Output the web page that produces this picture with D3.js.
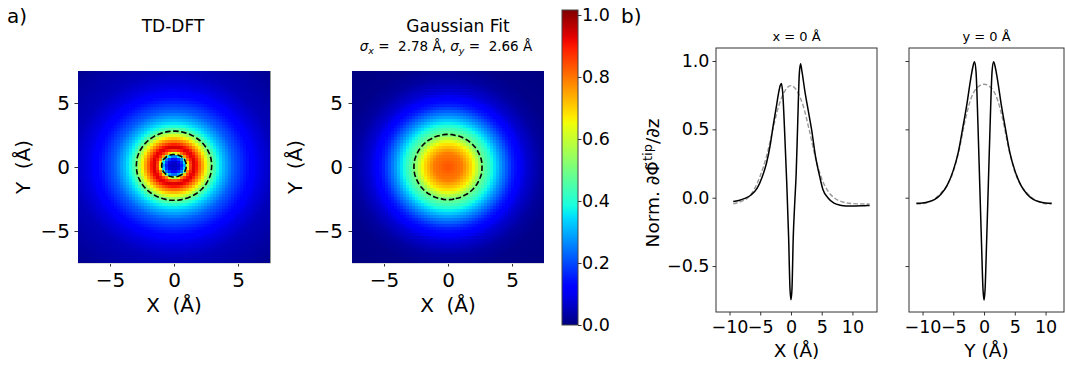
<!DOCTYPE html>
<html>
<head>
<meta charset="utf-8">
<script src="https://cdn.jsdelivr.net/npm/d3@7"></script>
<style>
  body { margin: 0; background: #fff; }
  svg { font-family: "DejaVu Sans", sans-serif; }
  text { white-space: pre; }
</style>
</head>
<body>
<svg id="fig" width="1065" height="365"></svg>
<script>
// ---- data ----
// TD-DFT map: radial profile (r in Å, normalised value)
const tdRadii  = [0, 0.4, 0.75, 0.93, 1.1, 1.3, 1.5, 1.7, 1.9, 2.2, 2.5, 2.8, 3.2, 3.7, 4.4, 5.3, 6.3, 7.5, 11];
const tdValues = [0.05, 0.08, 0.25, 0.5, 0.78, 0.89, 0.94, 0.9, 0.82, 0.72, 0.61, 0.5, 0.39, 0.31, 0.22, 0.15, 0.09, 0.05, 0.01];
const tdStretch = {x: 1.05, y: 0.96, shiftY: 0.1};

// Gaussian fit map: profile against r / sigma
const sigma = {x: 2.78, y: 2.66};
const fitRadii  = [0, 0.4, 0.7, 0.95, 1.2, 1.5, 1.8, 2.2, 2.6, 3, 4];
const fitValues = [0.84, 0.79, 0.67, 0.5, 0.4, 0.27, 0.16, 0.074, 0.028, 0.009, 0];
const contourLevels = [0.5];

// b) line cuts
const xCutPos = [-9.4, -8.5, -7.5, -6.5, -5.5, -4.7, -4, -3.4, -2.85, -2.4, -2.04, -1.75, -1.56, -1.35, -1.0, -0.7, -0.38, -0.17, 0,
  0.17, 0.37, 0.6, 0.85, 1.1, 1.35, 1.56, 1.8, 2.26, 2.8, 3.35, 4, 4.7, 5.2, 6, 7, 8, 9, 10.5, 12, 12.8];
const xCutTd = [-0.028, -0.02, -0.005, 0.02, 0.07, 0.15, 0.25, 0.38, 0.54, 0.66, 0.76, 0.82, 0.835, 0.77, 0.45, 0.12, -0.29, -0.655, -0.747,
  -0.66, -0.29, -0.05, 0.18, 0.55, 0.9, 0.98, 0.92, 0.78, 0.64, 0.5, 0.3, 0.15, 0.06, 0.0, -0.04, -0.055, -0.06, -0.06, -0.058, -0.057];
const xCutFitPos = [-9.4, -8, -7, -6, -5, -4, -3, -2, -1, 0, 1, 2, 3, 4, 5, 6, 7, 8, 9, 10, 11, 12, 12.8];
const xCutFit = [-0.045, -0.025, 0.0, 0.06, 0.16, 0.3, 0.49, 0.67, 0.78, 0.82, 0.78, 0.67, 0.49, 0.29, 0.14, 0.05, 0.0, -0.025, -0.038, -0.043, -0.045, -0.046, -0.046];

const yCutPos = [-11, -10, -9, -8, -7, -6, -5, -4.2, -3.5, -2.8, -2.2, -1.8, -1.55, -1.3, -1.0, -0.7, -0.4, -0.17, 0,
  0.17, 0.4, 0.7, 1.0, 1.3, 1.55, 1.8, 2.2, 2.8, 3.5, 4.2, 5, 6, 7, 8, 9, 10, 11];
const yCutTd = [-0.04, -0.038, -0.03, -0.012, 0.025, 0.09, 0.2, 0.33, 0.5, 0.68, 0.86, 0.96, 0.995, 0.92, 0.55, 0.1, -0.35, -0.67, -0.75,
  -0.67, -0.35, 0.1, 0.55, 0.92, 0.995, 0.96, 0.86, 0.68, 0.5, 0.33, 0.2, 0.09, 0.025, -0.012, -0.03, -0.038, -0.04];
const yCutFitPos = [-11, -10, -9, -8, -7, -6, -5, -4, -3, -2, -1, 0, 1, 2, 3, 4, 5, 6, 7, 8, 9, 10, 11];
const yCutFit = [-0.046, -0.044, -0.032, -0.008, 0.035, 0.09, 0.19, 0.36, 0.58, 0.74, 0.81, 0.83, 0.81, 0.74, 0.58, 0.36, 0.19, 0.09, 0.035, -0.008, -0.032, -0.044, -0.046];

const mapTicks = [-5, 0, 5];
const cbTicks = [0, 0.2, 0.4, 0.6, 0.8, 1.0];
const cbMax = 1.016;
const cutXTicks = [-10, -5, 0, 5, 10];
const cutYTicks = [-0.5, 0, 0.5, 1.0];

// ---- jet colormap ----
const jetR = d3.scaleLinear().domain([0, 0.35, 0.66, 0.89, 1]).range([0, 0, 1, 1, 0.5]).clamp(true);
const jetG = d3.scaleLinear().domain([0, 0.125, 0.375, 0.64, 0.91, 1]).range([0, 0, 1, 1, 0, 0]).clamp(true);
const jetB = d3.scaleLinear().domain([0, 0.11, 0.34, 0.65, 1]).range([0.5, 1, 1, 0, 0]).clamp(true);
const jet = t => d3.rgb(jetR(t) * 255, jetG(t) * 255, jetB(t) * 255).formatHex();

const svg = d3.select('#fig');

const tdProfile = d3.scaleLinear().domain(tdRadii).range(tdValues).clamp(true);
const fitProfile = d3.scaleLinear().domain(fitRadii).range(fitValues).clamp(true);

const tdAt = (x, y) => tdProfile(Math.hypot(x / tdStretch.x, (y - tdStretch.shiftY) / tdStretch.y));
const fitAt = (x, y) => fitProfile(Math.hypot(x / sigma.x, y / sigma.y));

const n = 64;
const ext = 7.5;

// matplotlib-ish axis look: no domain line, dark ticks, DejaVu labels
const styleAxis = (g, size) => {
    g.attr('font-family', null).attr('font-size', size);
    g.select('.domain').remove();
    g.selectAll('line').attr('stroke', '#333');
    g.selectAll('text').attr('fill', '#000');
};

const drawMap = (box, valueAt) => {
    const x = d3.scaleLinear().domain([-ext, ext]).range([box.left, box.left + box.size]);
    const y = d3.scaleLinear().domain([-ext, ext]).range([box.top + box.size, box.top]);
    const step = 2 * ext / n;

    const values = [];
    const cells = [];
    for (let j = 0; j < n; j++) {
        for (let i = 0; i < n; i++) {
            const cx = -ext + (i + 0.5) * step;
            const cy = ext - (j + 0.5) * step;
            const v = valueAt(cx, cy);
            values.push(v);
            cells.push({x0: -ext + i * step, y0: ext - j * step, v});
        }
    }

    const g = svg.append('g');
    g.selectAll('rect')
        .data(cells)
        .join('rect')
        .attr('x', d => x(d.x0))
        .attr('y', d => y(d.y0))
        .attr('width', x(step) - x(0) + 0.3)
        .attr('height', y(0) - y(step) + 0.3)
        .attr('fill', d => jet(d.v / cbMax))
        .attr('shape-rendering', 'crispEdges');

    // dashed contour from the same grid
    const px = box.size / n;
    const path = d3.geoPath(d3.geoIdentity().scale(px).translate([box.left, box.top]));
    g.selectAll('path.ct')
        .data(d3.contours().size([n, n]).thresholds(contourLevels)(values))
        .join('path')
        .attr('class', 'ct')
        .attr('d', path)
        .attr('fill', 'none')
        .attr('stroke', '#000')
        .attr('stroke-width', 1.6)
        .attr('stroke-dasharray', '5.5,2.6');

    svg.append('g')
        .attr('transform', `translate(0,${box.top + box.size})`)
        .call(d3.axisBottom(x).tickValues(mapTicks).tickSize(3.5).tickPadding(6).tickFormat(d3.format('d')))
        .call(g => styleAxis(g, 20));
    svg.append('g')
        .attr('transform', `translate(${box.left},0)`)
        .call(d3.axisLeft(y).tickValues(mapTicks).tickSize(3.5).tickPadding(box.ypad).tickFormat(d3.format('d')))
        .call(g => styleAxis(g, 20));

    svg.append('text')
        .attr('x', x(0)).attr('y', 312)
        .attr('text-anchor', 'middle').attr('font-size', 20)
        .text('X  (Å)');
    svg.append('text')
        .attr('transform', `translate(${box.ylab},${y(0)}) rotate(-90)`)
        .attr('text-anchor', 'middle').attr('font-size', 20)
        .text('Y  (Å)');
};

// ---- a) maps ----
const tdBox = {left: 78, top: 71, size: 192, ypad: 4.5, ylab: 30};
const fitBox = {left: 352, top: 71, size: 192, ypad: 5.5, ylab: 302};
drawMap(tdBox, tdAt);
drawMap(fitBox, fitAt);

// faint frame remnants
svg.append('line').attr('x1', 270.5).attr('x2', 270.5).attr('y1', 71).attr('y2', 263)
    .attr('stroke', '#999').attr('stroke-width', 1);
svg.append('line').attr('x1', 78).attr('x2', 271).attr('y1', 263.5).attr('y2', 263.5)
    .attr('stroke', '#ddd').attr('stroke-width', 1);
svg.append('line').attr('x1', 352).attr('x2', 544).attr('y1', 263.5).attr('y2', 263.5)
    .attr('stroke', '#ddd').attr('stroke-width', 1);

svg.append('text').attr('x', 173).attr('y', 32).attr('text-anchor', 'middle').attr('font-size', 17).text('TD-DFT');
svg.append('text').attr('x', 458).attr('y', 32).attr('text-anchor', 'middle').attr('font-size', 17).text('Gaussian Fit');

const sig = svg.append('text').attr('x', 446).attr('y', 51).attr('text-anchor', 'middle').attr('font-size', 13.5);
sig.append('tspan').attr('font-style', 'italic').text('σ');
sig.append('tspan').attr('font-style', 'italic').attr('font-size', 9.5).attr('dy', 3).text('x');
sig.append('tspan').attr('dy', -3).text(' =  2.78 Å, ');
sig.append('tspan').attr('font-style', 'italic').text('σ');
sig.append('tspan').attr('font-style', 'italic').attr('font-size', 9.5).attr('dy', 3).text('y');
sig.append('tspan').attr('dy', -3).text(' =  2.66 Å');

// ---- colorbar ----
const cb = {left: 562, width: 16, top: 10, bottom: 325};
const cbScale = d3.scaleLinear().domain([0, cbMax]).range([cb.bottom, cb.top]);
const grad = svg.append('defs').append('linearGradient')
    .attr('id', 'jetgrad').attr('x1', 0).attr('y1', 1).attr('x2', 0).attr('y2', 0);
grad.selectAll('stop')
    .data(d3.range(0, 1.0001, 0.02))
    .join('stop')
    .attr('offset', d => d)
    .attr('stop-color', d => jet(d));
svg.append('rect')
    .attr('x', cb.left).attr('y', cb.top)
    .attr('width', cb.width).attr('height', cb.bottom - cb.top)
    .attr('fill', 'url(#jetgrad)')
    .attr('stroke', '#444').attr('stroke-width', 1);
svg.append('g')
    .attr('transform', `translate(${cb.left + cb.width},0)`)
    .call(d3.axisRight(cbScale).tickValues(cbTicks).tickSize(3.5).tickPadding(0.5).tickFormat(d3.format('.1f')))
    .call(g => styleAxis(g, 17.5));

// ---- b) line cuts ----
const yCut = d3.scaleLinear().domain([-0.836, 1.095]).range([312, 48]);

const drawCut = (range, domain, solid, dashed, title, xlabel, showY) => {
    const x = d3.scaleLinear().domain(domain).range(range);
    const g = svg.append('g');
    const clipId = 'clip' + range[0];
    g.append('clipPath').attr('id', clipId).append('rect')
        .attr('x', range[0]).attr('y', 48).attr('width', range[1] - range[0]).attr('height', 264);

    const line = d3.line().x(d => x(d[0])).y(d => yCut(d[1])).curve(d3.curveMonotoneX);
    g.append('path')
        .attr('clip-path', `url(#${clipId})`)
        .attr('d', line(dashed))
        .attr('fill', 'none').attr('stroke', '#999').attr('stroke-width', 1.4)
        .attr('stroke-dasharray', '4.5,2.2');
    g.append('path')
        .attr('clip-path', `url(#${clipId})`)
        .attr('d', line(solid))
        .attr('fill', 'none').attr('stroke', '#000').attr('stroke-width', 1.5);

    g.append('rect')
        .attr('x', range[0]).attr('y', 48)
        .attr('width', range[1] - range[0]).attr('height', 264)
        .attr('fill', 'none').attr('stroke', '#333').attr('stroke-width', 1);

    svg.append('g')
        .attr('transform', 'translate(0,312)')
        .call(d3.axisBottom(x).tickValues(cutXTicks).tickSize(3.5).tickPadding(5).tickFormat(d3.format('d')))
        .call(g => styleAxis(g, 17.5));
    svg.append('g')
        .attr('transform', `translate(${range[0]},0)`)
        .call(d3.axisLeft(yCut).tickValues(cutYTicks).tickSize(3.5).tickPadding(3)
            .tickFormat(showY ? d3.format('.1f') : () => ''))
        .call(g => styleAxis(g, 17.5));

    const mid = (range[0] + range[1]) / 2;
    svg.append('text').attr('x', mid).attr('y', 41).attr('text-anchor', 'middle').attr('font-size', 13).text(title);
    svg.append('text').attr('x', mid).attr('y', 357).attr('text-anchor', 'middle').attr('font-size', 18.5).text(xlabel);
};

drawCut([716, 877], [-12.2, 14], d3.zip(xCutPos, xCutTd), d3.zip(xCutFitPos, xCutFit), 'x = 0 Å', 'X (Å)', true);
drawCut([909, 1064], [-12.2, 13], d3.zip(yCutPos, yCutTd), d3.zip(yCutFitPos, yCutFit), 'y = 0 Å', 'Y (Å)', false);

const yl = svg.append('text')
    .attr('transform', 'translate(659,183) rotate(-90)')
    .attr('text-anchor', 'middle').attr('font-size', 18.5);
yl.append('tspan').text('Norm. ∂Φ\u0303');
yl.append('tspan').attr('font-size', 13).attr('dy', -7).text('tip');
yl.append('tspan').attr('dy', 7).text('/∂z');

svg.append('text').attr('x', 7).attr('y', 23).attr('font-size', 20).text('a)');
svg.append('text').attr('x', 621).attr('y', 23).attr('font-size', 20).text('b)');
</script>
</body>
</html>
